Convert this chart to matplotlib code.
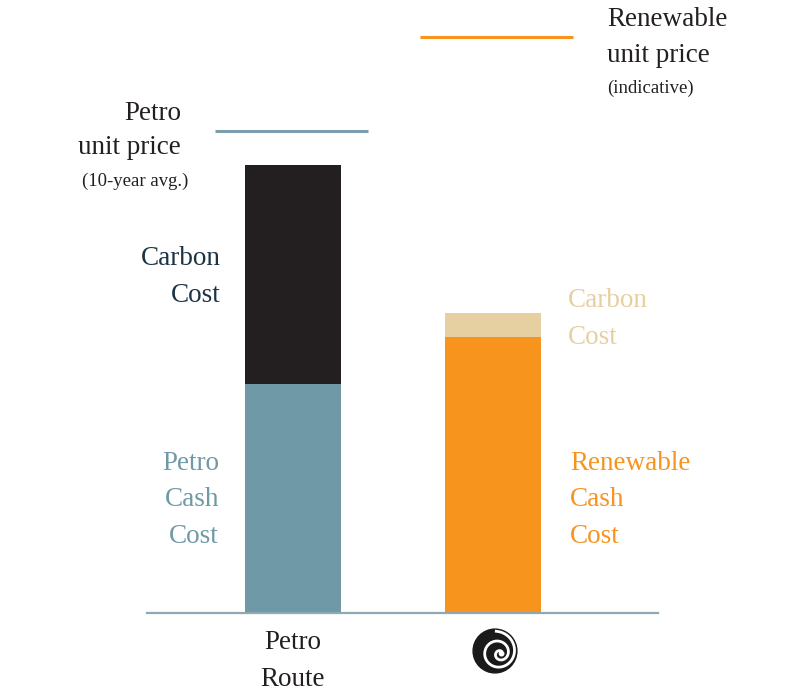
import numpy as np
import matplotlib.pyplot as plt

plt.rcParams['font.family'] = ['Liberation Serif', 'DejaVu Serif']

# values (arbitrary units, petro total = 100)
routes = ["Petro\nRoute", ""]
cash_cost = [51.0, 61.5]
carbon_cost = [49.0, 5.5]
unit_price = [107.5, 128.5]

cash_colors = ["#6f99a6", "#f7941e"]
carbon_colors = ["#231f20", "#e6d0a2"]
price_colors = ["#7a9eab", "#f7941e"]

W, H = 797, 695
fig = plt.figure(figsize=(W / 100, H / 100), dpi=100)


def px(x, y):
    return x / W, 1 - y / H


ax = fig.add_axes([147 / W, (H - 613) / H, 511 / W, 613 / H])
x = np.arange(len(routes))
ax.bar(x, cash_cost, width=0.48, color=cash_colors)
ax.bar(x, carbon_cost, width=0.48, bottom=cash_cost, color=carbon_colors)
for i in x:
    ax.hlines(unit_price[i], i - 0.39 + 0.025 * i, i + 0.375 + 0.025 * i,
              color=price_colors[i], lw=2.2)

ax.set_xlim(-0.73, 1.825)
ax.set_ylim(0, 136.8)
for s in ["top", "left", "right"]:
    ax.spines[s].set_visible(False)
ax.spines["bottom"].set_color("#8fa9b3")
ax.spines["bottom"].set_linewidth(1.6)
ax.set_xticks([])
ax.set_yticks([])
ax.patch.set_alpha(0)

big = 19.5
small = 13.5
dark = "#231f20"
ls = 1.58

# labels
fig.text(*px(181, 113), "Petro", ha="right", va="center", fontsize=big, color=dark)
fig.text(*px(181, 148), "unit price", ha="right", va="center", fontsize=big, color=dark)
fig.text(*px(188, 181), "(10-year avg.)", ha="right", va="center", fontsize=small, color=dark)

fig.text(*px(607, 20), "Renewable", ha="left", va="center", fontsize=big, color=dark)
fig.text(*px(607, 55), "unit price", ha="left", va="center", fontsize=big, color=dark)
fig.text(*px(607, 88), "(indicative)", ha="left", va="center", fontsize=small, color=dark)

fig.text(*px(221, 277), "Carbon\nCost", ha="right", va="center", fontsize=big,
         color="#1c3446", linespacing=ls, multialignment="right")
fig.text(*px(219, 500), "Petro\nCash\nCost", ha="right", va="center", fontsize=big,
         color=cash_colors[0], linespacing=ls, multialignment="right")
fig.text(*px(568, 319), "Carbon\nCost", ha="left", va="center", fontsize=big,
         color=carbon_colors[1], linespacing=ls)
fig.text(*px(570, 500), "Renewable\nCash\nCost", ha="left", va="center", fontsize=big,
         color=cash_colors[1], linespacing=ls)

fig.text(*px(293, 661), routes[0], ha="center", va="center", fontsize=big,
         color=dark, linespacing=ls)

# spiral logo under the renewable bar
lx, ly = px(472, 628)
lax = fig.add_axes([lx, ly - 46 / H, 46 / W, 46 / H])
lax.set_xlim(-1.05, 1.05)
lax.set_ylim(-1.05, 1.05)
lax.set_aspect("equal")
lax.axis("off")
lax.add_patch(plt.Circle((0, 0), 1.0, color="#1a1a1a"))
t = np.linspace(0, 4.0 * np.pi, 400)
r = 0.9 - 0.062 * t
th = np.pi / 2 - t
cx = 0.06 + 0.22 * (t / t.max())
cy = -0.12 * (t / t.max())
lax.plot(r * np.cos(th) + cx, r * np.sin(th) + cy, color="white", lw=2.0)
lax.add_patch(plt.Circle((0.3, -0.12), 0.1, color="white"))

fig.savefig("out.png", dpi=100)
